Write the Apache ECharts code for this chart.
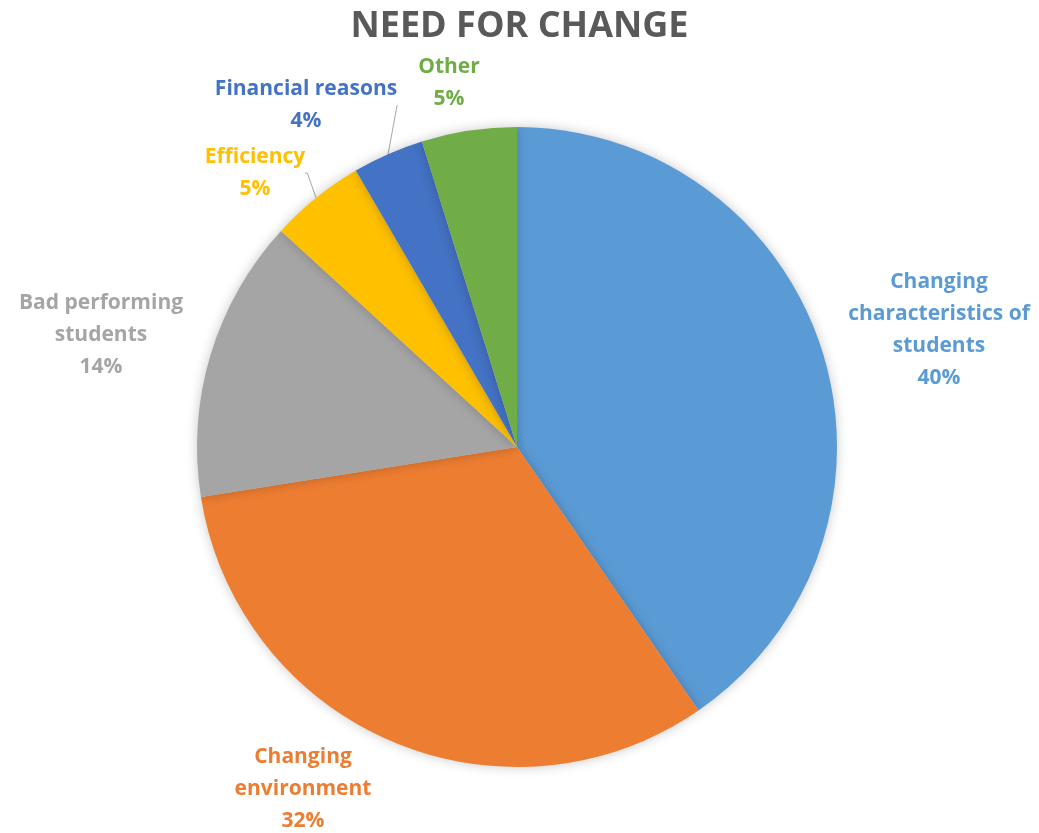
<!DOCTYPE html>
<html><head><meta charset="utf-8">
<script src="https://cdn.jsdelivr.net/npm/echarts@6/dist/echarts.min.js"></script>
<style>html,body{margin:0;padding:0;background:#fff}#c{width:1039px;height:833px}</style>
</head><body><div id="c"></div>
<script>
const categories = ['Changing characteristics of students','Changing environment','Bad performing students','Efficiency','Financial reasons','Other'];
const labelTexts = ['Changing\ncharacteristics of\nstudents','Changing\nenvironment','Bad performing\nstudents','Efficiency','Financial reasons','Other'];
const values = [40.4, 32.1, 14.3, 4.8, 3.6, 4.8];
const colors = ['#5B9BD5','#ED7D31','#A5A5A5','#FFC000','#4472C4','#70AD47'];
const labelPos = [[939,330],[303,789],[101,335],[255,173],[306,105],[449,83]];
const showLine = [false,false,false,true,true,false];

const chart = echarts.init(document.getElementById('c'));
const FONT = 'Open Sans';
chart.setOption({
  animation:false,
  title:{text:'NEED FOR CHANGE',left:'center',top:4,textStyle:{fontFamily:FONT,fontWeight:'bold',fontSize:36,color:'#595959'}},
  series:[{
    type:'pie',
    center:[517,447],
    radius:[0,320],
    startAngle:90,
    clockwise:true,
    avoidLabelOverlap:false,
    itemStyle:{borderWidth:0,shadowBlur:12,shadowColor:'rgba(0,0,0,0.22)'},
    label:{show:true,position:'outside',fontFamily:FONT,fontWeight:'bold',fontSize:21,lineHeight:32,align:'center',
      formatter:p=>labelTexts[p.dataIndex]+'\n'+Math.round(p.percent)+'%'},
    labelLine:{show:false},
    labelLayout:p=>({x:labelPos[p.dataIndex][0],y:labelPos[p.dataIndex][1],align:'center',verticalAlign:'middle'}),
    data:categories.map((c,i)=>({name:c,value:values[i],
      itemStyle:{color:colors[i]},
      label:{color:colors[i]},
      labelLine:{show:showLine[i],length:10,length2:2,lineStyle:{color:'#a6a6a6',width:1}}}))
  }]
});
</script></body></html>
